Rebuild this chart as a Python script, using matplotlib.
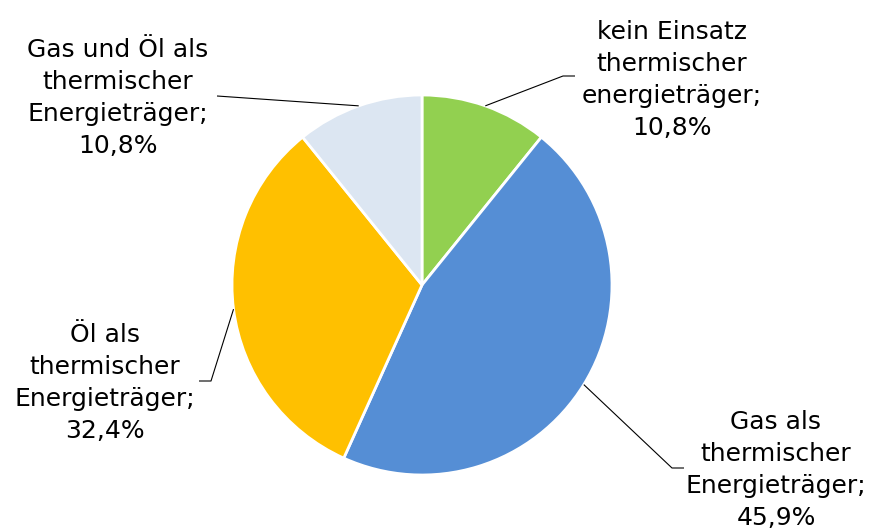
import numpy as np
import matplotlib.pyplot as plt

# Anteile der Nutzung thermischer Energieträger
labels = ['kein Einsatz\nthermischer\nenergieträger',
          'Gas als\nthermischer\nEnergieträger',
          'Öl als\nthermischer\nEnergieträger',
          'Gas und Öl als\nthermischer\nEnergieträger']
shares = [10.8, 45.9, 32.4, 10.8]
colors = ['#92D050', '#558ED5', '#FFC000', '#DCE6F2']

W, H = 877, 531
center = (422, H - 285)
radius = 190

# label centre, elbow and end of the leader line (pixel layout, y from top)
label_pos = [(672, 80), (776, 470), (105, 383), (118, 98)]
elbows = [(563, 76), (672, 468), (211, 381), (217, 96)]
ends = [(575, 76), (684, 468), (199, 381), (217, 96)]

fig = plt.figure(figsize=(W / 100, H / 100), dpi=100)
ax = fig.add_axes([0, 0, 1, 1])

wedges, _ = ax.pie(shares, colors=colors, startangle=90, counterclock=False,
                   center=center, radius=radius,
                   wedgeprops=dict(edgecolor='white', linewidth=2))
ax.set_xlim(0, W)
ax.set_ylim(0, H)
ax.set_aspect('equal')
ax.axis('off')

for w, lab, val, lp, el, en in zip(wedges, labels, shares, label_pos, elbows, ends):
    mid = np.deg2rad((w.theta1 + w.theta2) / 2)
    x0 = center[0] + radius * np.cos(mid)
    y0 = center[1] + radius * np.sin(mid)
    ax.plot([x0, el[0], en[0]], [y0, H - el[1], H - en[1]],
            color='black', lw=0.8, solid_capstyle='butt')
    txt = lab + ';\n' + ('%.1f%%' % val).replace('.', ',')
    ax.text(lp[0], H - lp[1], txt, ha='center', va='center',
            fontsize=18, linespacing=1.42, color='black')

fig.savefig('out.png', dpi=100)
